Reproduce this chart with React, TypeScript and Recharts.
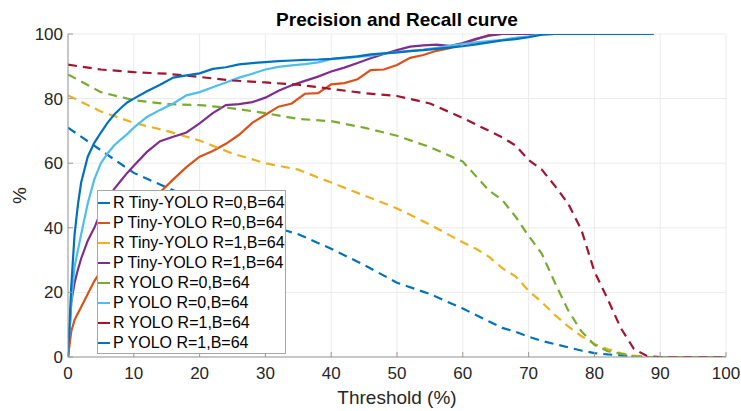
import React from 'react';
import { LineChart, Line, XAxis, YAxis, CartesianGrid } from 'recharts';

const FONT = '"Liberation Sans", Arial, Helvetica, sans-serif';

// Thresholds (%) at which values were read
const recallThresholds = [0, 5, 10, 15, 20, 25, 30, 35, 40, 45, 50, 55, 60, 62, 64, 66, 68, 70, 72, 74, 76, 78, 80, 82, 84, 86, 88, 90, 95, 100];
const precisionThresholds = [0, 0.5, 1, 1.5, 2, 3, 4, 5, 6, 7, 8, 9, 10, 12, 14, 16, 18, 20, 22, 24, 26, 28, 30, 32, 34, 36, 38, 40, 42, 44, 46, 48, 50, 52, 54, 56, 58, 60, 62, 64, 66, 68, 70, 72, 74, 76, 78, 80, 82, 84, 86, 88, 89];

// Recall series
const rTinyR0 = [71, 64, 57, 52.5, 48, 44, 41, 38, 33.5, 28.5, 23, 19.5, 15, 13, 11, 9, 7.8, 6.3, 5, 4, 3, 2, 1.2, 0.8, 0.5, 0.3, 0, 0, 0, 0];
const rTinyR1 = [81, 76, 72.5, 70, 67, 63, 60, 58, 54, 50, 46, 41, 35.5, 33.5, 31, 27.5, 25, 20.5, 17, 13, 9.5, 6.5, 4, 2.5, 1.2, 0.4, 0, 0, 0, 0];
const rYoloR0 = [87.5, 82, 79.5, 78.3, 78, 77, 75.5, 73.7, 73, 71, 68.5, 65, 60.5, 56, 51.5, 48.6, 43.5, 37.5, 32, 23, 14.5, 8, 3.8, 1.8, 1, 0.2, 0, 0, 0, 0];
const rYoloR1 = [90.5, 89, 88.2, 87.7, 86.7, 85.6, 85, 84.3, 83, 81.7, 80.8, 78.5, 74, 72, 70, 68, 65.5, 61, 58, 53, 47.5, 39.5, 26.5, 18, 9, 2.5, 0.3, 0, 0, 0];

// Precision series
const pTinyR0 = [0, 8, 11.5, 13.5, 15.5, 19.5, 23.5, 26.5, 29.5, 32.5, 35.5, 38.5, 41, 46, 51, 55, 58.8, 62, 63.8, 66, 68.8, 72.5, 75, 77.5, 78.5, 81.5, 81.7, 84.4, 84.8, 86, 88.8, 89, 90.4, 92.6, 93.5, 94.8, 95.6, 97, 98.3, 99.7, 100, 100, 100, 100, 100, 100, 100, 100, 100, 100, 100, 100, 100];
const pTinyR1 = [0, 17, 23, 27, 30.5, 36, 40, 45, 48.5, 52, 54.5, 57, 59.2, 63.5, 66.8, 68.2, 69.5, 72.3, 75.5, 78, 78.3, 78.9, 80.3, 82.4, 84.1, 85.5, 86.8, 88.4, 89.6, 91, 92.5, 93.8, 95, 96.1, 96.5, 96.7, 96.3, 97.2, 98.5, 99.5, 100, 100, 100, 100, 100, 100, 100, 100, 100, 100, 100, 100, 100];
const pYoloR0 = [0, 17, 28, 33, 38, 47.5, 55, 60, 63, 65.5, 67.3, 69, 71, 74.3, 76.5, 78.5, 81, 82, 83.5, 85, 86.5, 87.7, 89, 89.8, 90.3, 90.7, 91.2, 92.2, 92.5, 92.9, 93.3, 93.9, 94.4, 94.8, 95.2, 95.7, 96.3, 96.9, 97.4, 97.8, 98.2, 98.8, 99.3, 99.9, 100, 100, 100, 100, 100, 100, 100, 100, 100];
const pYoloR1 = [0, 22, 38, 47, 54, 62, 66.3, 69.5, 72.5, 75, 77, 78.8, 80, 82.3, 84.3, 86.5, 87.2, 87.8, 89.2, 89.7, 90.6, 91, 91.3, 91.6, 91.8, 92, 92.1, 92.3, 92.7, 93.1, 93.7, 94, 94.3, 94.7, 95, 95.4, 95.8, 96.2, 96.8, 97.4, 98, 98.4, 99, 99.8, 100, 100, 100, 100, 100, 100, 100, 100, 100];

const xTicks = [0, 10, 20, 30, 40, 50, 60, 70, 80, 90, 100];
const yTicks = [0, 20, 40, 60, 80, 100];

const seriesNames = [
  'R Tiny-YOLO R=0,B=64',
  'P Tiny-YOLO R=0,B=64',
  'R Tiny-YOLO R=1,B=64',
  'P Tiny-YOLO R=1,B=64',
  'R YOLO R=0,B=64',
  'P YOLO R=0,B=64',
  'R YOLO R=1,B=64',
  'P YOLO R=1,B=64',
];

const seriesColors = ['#0072BD', '#D95319', '#EDB120', '#7E2F8E', '#77AC30', '#4DBEEE', '#A2142F', '#0072BD'];

const seriesDefs = [
  { t: recallThresholds, v: rTinyR0, dashed: true },
  { t: precisionThresholds, v: pTinyR0, dashed: false },
  { t: recallThresholds, v: rTinyR1, dashed: true },
  { t: precisionThresholds, v: pTinyR1, dashed: false },
  { t: recallThresholds, v: rYoloR0, dashed: true },
  { t: precisionThresholds, v: pYoloR0, dashed: false },
  { t: recallThresholds, v: rYoloR1, dashed: true },
  { t: precisionThresholds, v: pYoloR1, dashed: false },
];

const series = seriesDefs.map((s, i) => ({
  name: seriesNames[i],
  color: seriesColors[i],
  dashed: s.dashed,
  data: s.t.map((t, j) => ({ t, v: s.v[j] })),
}));

const tickStyle = { fontSize: 17, fill: '#262626', fontFamily: FONT };

const XLabel = (props: any) => {
  const vb = props.viewBox || {};
  const cx = vb.x + vb.width / 2;
  return (
    <text x={cx} y={404} textAnchor="middle" fontSize={19} fill="#262626" fontFamily={FONT}>
      Threshold (%)
    </text>
  );
};

const YLabel = (props: any) => {
  const vb = props.viewBox || {};
  const cy = vb.y + vb.height / 2;
  return (
    <text x={26} y={cy} textAnchor="middle" fontSize={19} fill="#262626" fontFamily={FONT} transform={`rotate(-90, 26, ${cy})`}>
      %
    </text>
  );
};

export default function App() {
  return (
    <div style={{ position: 'absolute', left: 0, top: 0, width: 741, height: 411, background: '#fff', fontFamily: FONT }}>
      <div
        style={{
          position: 'absolute',
          left: 68,
          width: 658,
          top: 10,
          textAlign: 'center',
          fontSize: 19,
          lineHeight: '19px',
          fontWeight: 'bold',
          color: '#000',
          fontFamily: FONT,
        }}
      >
        Precision and Recall curve
      </div>
      <LineChart width={741} height={411} margin={{ top: 34, right: 15, bottom: 0, left: 8 }}>
        <CartesianGrid stroke="#ebebeb" strokeWidth={1} horizontalValues={yTicks} verticalValues={xTicks} />
        <XAxis
          dataKey="t"
          type="number"
          domain={[0, 100]}
          ticks={xTicks}
          height={54}
          tick={tickStyle}
          tickSize={-5}
          tickMargin={15}
          stroke="#999999"
          axisLine={{ stroke: '#999999' }}
          tickLine={{ stroke: '#999999' }}
          allowDataOverflow
          label={<XLabel />}
        />
        <XAxis
          xAxisId="top"
          orientation="top"
          dataKey="t"
          type="number"
          domain={[0, 100]}
          ticks={xTicks}
          height={0}
          tick={false}
          tickSize={-5}
          stroke="#999999"
        />
        <YAxis
          type="number"
          domain={[0, 100]}
          ticks={yTicks}
          width={60}
          tick={tickStyle}
          tickSize={-5}
          tickMargin={10}
          stroke="#999999"
          allowDataOverflow
          label={<YLabel />}
        />
        <YAxis
          yAxisId="right"
          orientation="right"
          type="number"
          domain={[0, 100]}
          ticks={yTicks}
          width={0}
          tick={false}
          tickSize={-5}
          stroke="#999999"
        />
        {series.map((s) => (
          <Line
            key={s.name}
            data={s.data}
            dataKey="v"
            name={s.name}
            type="linear"
            stroke={s.color}
            strokeWidth={2.2}
            strokeDasharray={s.dashed ? '9 6' : undefined}
            dot={false}
            activeDot={false}
            isAnimationActive={false}
          />
        ))}
      </LineChart>
      <div
        style={{
          position: 'absolute',
          left: 97,
          top: 190,
          width: 187,
          border: '1px solid #a6a6a6',
          background: '#fff',
          paddingTop: 2,
          paddingBottom: 0,
        }}
      >
        {series.map((s) => (
          <div key={s.name} style={{ display: 'flex', alignItems: 'center', height: 20 }}>
            <div style={{ width: 12, height: 0, borderTop: `2.2px solid ${s.color}`, marginLeft: 0, marginRight: 3 }} />
            <span style={{ fontSize: 16, lineHeight: '20px', color: '#000', whiteSpace: 'nowrap' }}>{s.name}</span>
          </div>
        ))}
      </div>
    </div>
  );
}
